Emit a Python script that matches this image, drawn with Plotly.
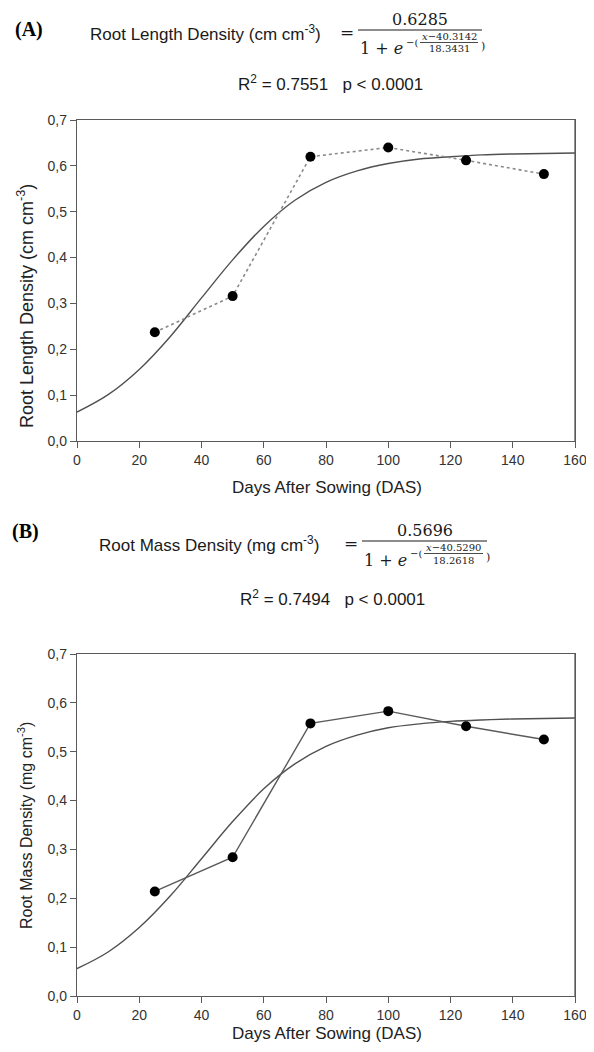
import plotly.graph_objects as go

# the page shows the figure inside the browser's default 8px body margin
W, H = 594, 1052
OFF = 8
FW, FH = W - 2 * OFF, H - 2 * OFF

# ---- data ----
das = [25, 50, 75, 100, 125, 150]
rld_obs = [0.237, 0.316, 0.620, 0.640, 0.612, 0.582]
rmd_obs = [0.214, 0.284, 0.558, 0.583, 0.552, 0.525]

fit_x = [0, 10, 20, 30, 40, 50, 60, 70, 80, 90, 100, 110, 120, 130, 140, 150, 160]
rld_fit = [0.063, 0.101, 0.156, 0.228, 0.312, 0.395, 0.468, 0.525, 0.564, 0.589,
           0.605, 0.615, 0.620, 0.624, 0.626, 0.627, 0.628]
rmd_fit = [0.056, 0.090, 0.140, 0.205, 0.281, 0.357, 0.424, 0.475, 0.511, 0.534,
           0.549, 0.557, 0.562, 0.565, 0.567, 0.568, 0.569]

x_ticks = [0, 20, 40, 60, 80, 100, 120, 140, 160]
y_ticks = [0.0, 0.1, 0.2, 0.3, 0.4, 0.5, 0.6, 0.7]


def px(x):
    return (x - OFF) / FW


def py(y):
    return 1 - (y - OFF) / FH


fig = go.Figure()

CURVE = "#505050"
AXC = "#5a5a5a"
# Panel A
fig.add_trace(go.Scatter(x=fit_x, y=rld_fit, mode="lines", line=dict(color=CURVE, width=1.4, shape="spline"),
                         xaxis="x", yaxis="y", showlegend=False, hoverinfo="skip"))
fig.add_trace(go.Scatter(x=das, y=rld_obs, mode="lines+markers",
                         line=dict(color="#8a8a8a", width=1.6, dash="dot"),
                         marker=dict(color="black", size=10), xaxis="x", yaxis="y", showlegend=False))
# Panel B
fig.add_trace(go.Scatter(x=fit_x, y=rmd_fit, mode="lines", line=dict(color=CURVE, width=1.4, shape="spline"),
                         xaxis="x2", yaxis="y2", showlegend=False, hoverinfo="skip"))
fig.add_trace(go.Scatter(x=das, y=rmd_obs, mode="lines+markers",
                         line=dict(color="#5a5a5a", width=1.4),
                         marker=dict(color="black", size=10), xaxis="x2", yaxis="y2", showlegend=False))

xd = [px(77), px(575)]
axis_common = dict(showline=True, linecolor=AXC, linewidth=1.3, mirror=True,
                   ticks="outside", ticklen=6, tickwidth=1.3, tickcolor=AXC,
                   showgrid=False, zeroline=False, automargin=False, ticklabeloverflow="allow",
                   tickfont=dict(family="Liberation Sans, Arial", size=14, color="#333333"))

fig.update_layout(
    width=FW, height=FH, autosize=False, margin=dict(l=0, r=0, t=0, b=0, pad=0),
    paper_bgcolor="white", plot_bgcolor="white",
    separators=",.",
    xaxis=dict(domain=xd, range=[0, 160], tickvals=x_ticks, anchor="y", **axis_common),
    yaxis=dict(domain=[py(441), py(120)], range=[0, 0.7], tickvals=y_ticks, tickformat=".1f",
               anchor="x", **axis_common),
    xaxis2=dict(domain=xd, range=[0, 160], tickvals=x_ticks, anchor="y2", **axis_common),
    yaxis2=dict(domain=[py(996), py(654)], range=[0, 0.7], tickvals=y_ticks, tickformat=".1f",
                anchor="x2", **axis_common),
)

SANS = "Liberation Sans, Arial"
MATH = "DejaVu Serif"
anns = []
shapes = []

# right-hand frame edge of each panel
for xr, yr in (("x domain", "y domain"), ("x2 domain", "y2 domain")):
    shapes.append(dict(type="line", xref=xr, yref=yr, x0=1, x1=1, y0=0, y1=1,
                       line=dict(color=AXC, width=1.3), layer="above"))


def txt(text, x, y, size, family=SANS, xanchor="left", color="#1a1a1a", angle=0):
    anns.append(dict(text=text, x=px(x), y=py(y), xref="paper", yref="paper", showarrow=False,
                     xanchor=xanchor, yanchor="middle", textangle=angle,
                     font=dict(family=family, size=size, color=color)))


def hline(x0, x1, y, w):
    shapes.append(dict(type="line", xref="paper", yref="paper", x0=px(x0), x1=px(x1),
                       y0=py(y), y1=py(y), line=dict(color="#1a1a1a", width=w)))


def equation(tag, tag_x, tag_y, label, lab_x, lab_y, eq_x, bar_x0, bar_x1, bar_y, num, small_num, small_den,
             r2_text, r2_x, r2_y):
    txt("<b>" + tag + "</b>", tag_x, tag_y, 20, family="Liberation Serif", color="black")
    txt(label, lab_x, lab_y, 17)
    txt("=", eq_x, bar_y + 2, 17, family=MATH, xanchor="center")
    txt(num, (bar_x0 + bar_x1) / 2, bar_y - 11, 16, family=MATH, xanchor="center")
    hline(bar_x0, bar_x1, bar_y, 1.2)
    txt("1 + <i>e</i>", bar_x0, bar_y + 19, 16, family=MATH)
    txt("\u2212(", bar_x0 + 46, bar_y + 12, 10, family=MATH)
    sx0, sx1 = bar_x0 + 62, bar_x1 - 4
    txt("<i>x</i>\u2212" + small_num, (sx0 + sx1) / 2, bar_y + 6.5, 10, family=MATH, xanchor="center")
    hline(sx0, sx1, bar_y + 12.5, 0.8)
    txt(small_den, (sx0 + sx1) / 2, bar_y + 19, 10, family=MATH, xanchor="center")
    txt(")", sx1 + 1, bar_y + 16, 11, family=MATH)
    txt(r2_text, r2_x, r2_y, 17)


equation("(A)", 13, 30, "Root Length Density (cm cm<sup>-3</sup>)", 88, 33, 347, 358, 482, 30,
         "0.6285", "40.3142", "18.3431",
         "R<sup>2</sup> = 0.7551\u00a0\u00a0\u00a0p &lt; 0.0001", 236, 83)
equation("(B)", 10, 531, "Root Mass Density (mg cm<sup>-3</sup>)", 97, 544, 351, 362, 487, 541,
         "0.5696", "40.5290", "18.2618",
         "R<sup>2</sup> = 0.7494\u00a0\u00a0\u00a0p &lt; 0.0001", 238, 598)

# axis titles
txt("Days After Sowing (DAS)", 327, 487, 17, xanchor="center", color="#222222")
txt("Days After Sowing (DAS)", 327, 1033, 17, xanchor="center", color="#222222")
txt("Root Length Density (cm cm<sup>-3</sup>)", 25, 306, 18, xanchor="center", color="#222222", angle=-90)
txt("Root Mass Density (mg cm<sup>-3</sup>)", 25, 826, 16, xanchor="center", color="#222222", angle=-90)

fig.update_layout(annotations=anns, shapes=shapes)
fig.write_html("out.html", config={"displayModeBar": False},
               post_script="document.documentElement.style.overflow='hidden';"
                           "document.body.style.overflow='hidden';")
